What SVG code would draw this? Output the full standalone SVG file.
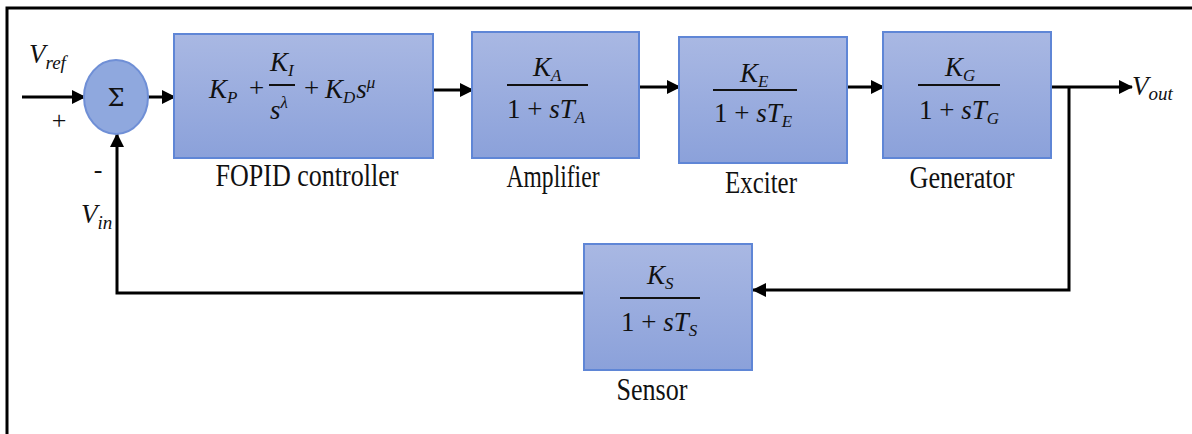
<svg xmlns="http://www.w3.org/2000/svg" width="1192" height="434" viewBox="0 0 1192 434">
<style>
.box{fill:url(#g);stroke:#5f86d6;stroke-width:2}
.wire{fill:none;stroke:#000;stroke-width:3}
.lbl{font-family:'Liberation Serif','Times New Roman',serif;font-size:31px;fill:#111;text-anchor:middle}
.m{font-family:'Liberation Serif','Times New Roman',serif;font-size:27px;font-style:italic;fill:#111}
.n{font-style:normal}
.bar{stroke:#111;stroke-width:2}
</style>
<defs>
<linearGradient id="g" x1="0" y1="0" x2="0" y2="1">
<stop offset="0" stop-color="#a9b8e3"/>
<stop offset="1" stop-color="#8ba1da"/>
</linearGradient>
<marker id="ah" markerUnits="userSpaceOnUse" markerWidth="14" markerHeight="14" refX="13" refY="7" orient="auto">
<path d="M0,0 L14,7 L0,14 z" fill="#000"/>
</marker>
</defs>
<rect width="1192" height="434" fill="#fff"/>
<path d="M7,434 V8 H1192" fill="none" stroke="#000" stroke-width="3"/>

<g id="connectors">
<path class="wire" d="M22,97 H85" marker-end="url(#ah)"/>
<path class="wire" d="M148,97 H175" marker-end="url(#ah)"/>
<path class="wire" d="M433,90 H473" marker-end="url(#ah)"/>
<path class="wire" d="M639,87 H680" marker-end="url(#ah)"/>
<path class="wire" d="M847,87 H884" marker-end="url(#ah)"/>
<path class="wire" d="M1051,87 H1132" marker-end="url(#ah)"/>
<path class="wire" d="M1069,87 V290 H753" marker-end="url(#ah)"/>
<path class="wire" d="M584,293 H117 V134" marker-end="url(#ah)"/>
</g>

<g id="labels-io">
<text class="m" x="29" y="63" font-size="29">V<tspan font-size="19" dy="6">ref</tspan></text>
<text x="59" y="129" font-family="'Liberation Serif',serif" font-size="26" fill="#111" text-anchor="middle">+</text>
<text x="98" y="178" font-family="'Liberation Serif',serif" font-size="26" fill="#111" text-anchor="middle">-</text>
<text class="m" x="81" y="223" font-size="29">V<tspan font-size="19" dy="6">in</tspan></text>
<text class="m" x="1132" y="95" font-size="29">V<tspan font-size="19" dy="5">out</tspan></text>
</g>

<g id="sum">
<ellipse cx="116" cy="97" rx="32" ry="37" fill="#8fa8de" stroke="#6f8fd6" stroke-width="2"/>
<text x="116" y="106" font-family="'DejaVu Serif',serif" font-size="24" fill="#111" text-anchor="middle">Σ</text>
</g>

<g id="fopid">
<rect class="box" x="174" y="34" width="259" height="124"/>
<text class="m" x="209" y="98">K<tspan font-size="17" dy="5">P</tspan></text>
<text class="m n" x="249" y="97">+</text>
<text class="m" x="270" y="71">K<tspan font-size="17" dy="5">I</tspan></text>
<line class="bar" x1="269" y1="85" x2="295" y2="85"/>
<text class="m" x="270" y="119">s<tspan font-size="17" dy="-11">λ</tspan></text>
<text class="m n" x="304" y="97">+</text>
<text class="m" x="325" y="98">K<tspan font-size="17" dy="5">D</tspan><tspan dx="1" dy="-5">s</tspan><tspan font-size="17" dy="-10">μ</tspan></text>
<text class="lbl" x="307" y="186" textLength="183" lengthAdjust="spacingAndGlyphs">FOPID controller</text>
</g>

<g id="amplifier">
<rect class="box" x="472" y="32" width="167" height="126"/>
<text class="m" x="533" y="76">K<tspan font-size="17" dy="5">A</tspan></text>
<line class="bar" x1="507" y1="85" x2="588" y2="85"/>
<text class="m" x="507" y="118"><tspan class="n">1 + </tspan>sT<tspan font-size="17" dy="5">A</tspan></text>
<text class="lbl" x="553" y="187" textLength="93" lengthAdjust="spacingAndGlyphs">Amplifier</text>
</g>

<g id="exciter">
<rect class="box" x="679" y="37" width="168" height="126"/>
<text class="m" x="740" y="82">K<tspan font-size="17" dy="5">E</tspan></text>
<line class="bar" x1="713" y1="90" x2="797" y2="90"/>
<text class="m" x="714" y="122"><tspan class="n">1 + </tspan>sT<tspan font-size="17" dy="5">E</tspan></text>
<text class="lbl" x="761" y="193" textLength="72" lengthAdjust="spacingAndGlyphs">Exciter</text>
</g>

<g id="generator">
<rect class="box" x="883" y="32" width="168" height="126"/>
<text class="m" x="945" y="76">K<tspan font-size="17" dy="5">G</tspan></text>
<line class="bar" x1="918" y1="85" x2="1000" y2="85"/>
<text class="m" x="919" y="119"><tspan class="n">1 + </tspan>sT<tspan font-size="17" dy="5">G</tspan></text>
<text class="lbl" x="962" y="188" textLength="105" lengthAdjust="spacingAndGlyphs">Generator</text>
</g>

<g id="sensor">
<rect class="box" x="584" y="244" width="168" height="126"/>
<text class="m" x="647" y="284">K<tspan font-size="17" dy="5">S</tspan></text>
<line class="bar" x1="620" y1="298" x2="700" y2="298"/>
<text class="m" x="621" y="331"><tspan class="n">1 + </tspan>sT<tspan font-size="17" dy="5">S</tspan></text>
<text class="lbl" x="652" y="400" textLength="71" lengthAdjust="spacingAndGlyphs">Sensor</text>
</g>
</svg>
